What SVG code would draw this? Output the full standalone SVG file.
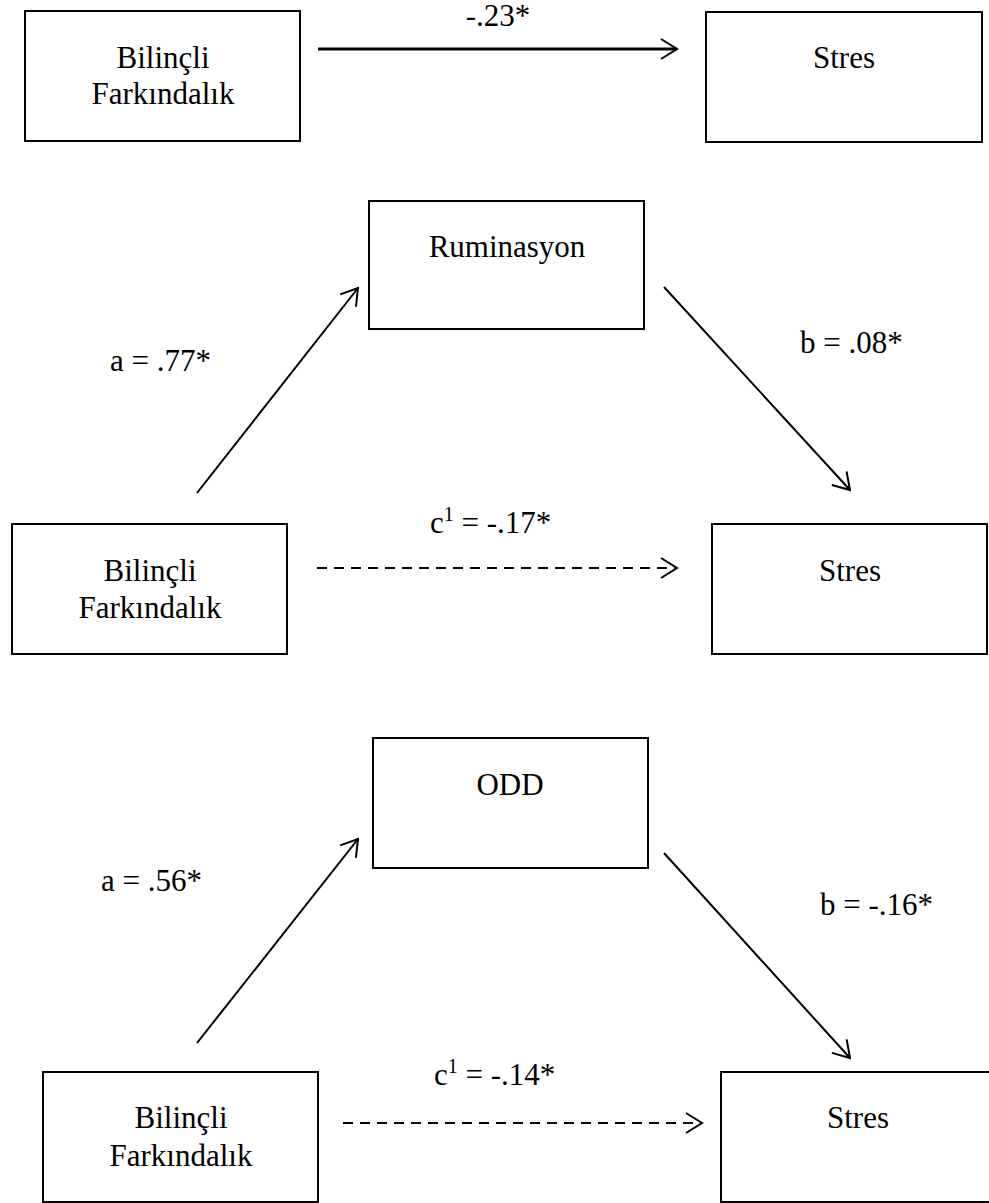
<svg xmlns="http://www.w3.org/2000/svg" width="989" height="1203" viewBox="0 0 989 1203">
<style>
.box{fill:#fff;stroke:#000;stroke-width:2}
.t{font-family:"Liberation Serif","Times New Roman",serif;font-size:31px;fill:#000}
.c{text-anchor:middle}
.ln{fill:none;stroke:#000;stroke-width:2}
.dash{stroke-dasharray:10 7}
</style>
<defs>
<marker id="arr" viewBox="-20 -12 22 24" markerWidth="22" markerHeight="24" refX="0" refY="0" orient="auto" markerUnits="userSpaceOnUse">
<path d="M-16,-10 L0,0 L-16,10" fill="none" stroke="#000" stroke-width="2" stroke-dasharray="none"/>
</marker>
</defs>
<rect width="989" height="1203" fill="#fff"/>

<g id="connectors">
<line x1="318" y1="49" x2="677" y2="49" class="ln" style="stroke-width:3" marker-end="url(#arr)"/>
<line x1="197" y1="493" x2="358" y2="288" class="ln" marker-end="url(#arr)"/>
<line x1="664" y1="287" x2="850" y2="490" class="ln" marker-end="url(#arr)"/>
<line x1="317" y1="568" x2="677" y2="568" class="ln dash" marker-end="url(#arr)"/>
<line x1="197" y1="1043" x2="358" y2="839" class="ln" marker-end="url(#arr)"/>
<line x1="664" y1="853" x2="850" y2="1058" class="ln" marker-end="url(#arr)"/>
<line x1="343" y1="1123" x2="702" y2="1123" class="ln dash" marker-end="url(#arr)"/>
</g>

<g id="labels">
<text class="t c" x="498" y="26">-.23*</text>
<text class="t" x="110" y="371">a = .77*</text>
<text class="t" x="800" y="353">b = .08*</text>
<text class="t" x="430" y="533">c<tspan dy="-12" font-size="20">1</tspan><tspan dy="12"> = -.17*</tspan></text>
<text class="t" x="101" y="891">a = .56*</text>
<text class="t" x="820" y="915">b = -.16*</text>
<text class="t" x="434" y="1085">c<tspan dy="-12" font-size="20">1</tspan><tspan dy="12"> = -.14*</tspan></text>
</g>

<g id="bf1">
<rect class="box" x="25" y="11" width="275" height="130"/>
<text class="t c" x="163" y="68">Bilinçli</text>
<text class="t c" x="163" y="104">Farkındalık</text>
</g>
<g id="stres1">
<rect class="box" x="706" y="12" width="276" height="130"/>
<text class="t c" x="844" y="68">Stres</text>
</g>

<g id="rum">
<rect class="box" x="369" y="201" width="275" height="128"/>
<text class="t c" x="507" y="257">Ruminasyon</text>
</g>
<g id="bf2">
<rect class="box" x="12" y="524" width="275" height="130"/>
<text class="t c" x="150" y="581">Bilinçli</text>
<text class="t c" x="150" y="618">Farkındalık</text>
</g>
<g id="stres2">
<rect class="box" x="712" y="524" width="275" height="130"/>
<text class="t c" x="850" y="581">Stres</text>
</g>

<g id="odd">
<rect class="box" x="373" y="738" width="275" height="130"/>
<text class="t c" x="510" y="795">ODD</text>
</g>
<g id="bf3">
<rect class="box" x="43" y="1072" width="275" height="130"/>
<text class="t c" x="181" y="1128">Bilinçli</text>
<text class="t c" x="181" y="1166">Farkındalık</text>
</g>
<g id="stres3">
<rect class="box" x="721" y="1072" width="275" height="130"/>
<text class="t c" x="858" y="1128">Stres</text>
</g>
</svg>
